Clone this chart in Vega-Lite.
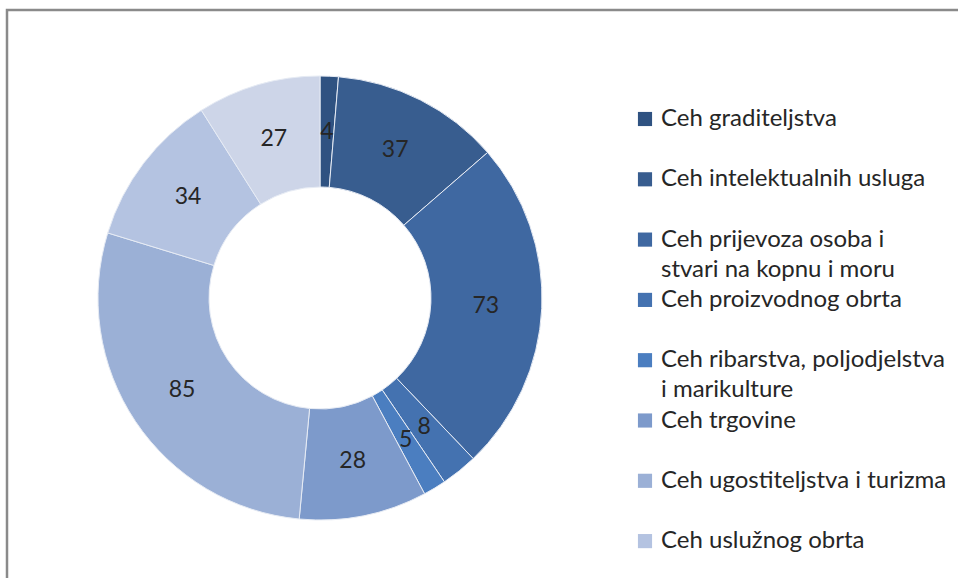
{
  "$schema": "https://vega.github.io/schema/vega-lite/v6.json",
  "width": 952,
  "height": 568,
  "autosize": "none",
  "padding": {"left": 6, "top": 10, "right": 0, "bottom": 0},
  "background": "white",
  "config": {
    "view": {"stroke": null},
    "style": {"guide-label": {"lineHeight": 30}}
  },
  "data": {
    "values": [
      {"ceh": "Ceh graditeljstva", "broj": 4, "red": 1},
      {"ceh": "Ceh intelektualnih usluga", "broj": 37, "red": 2},
      {"ceh": "Ceh prijevoza osoba i stvari na kopnu i moru", "broj": 73, "red": 3},
      {"ceh": "Ceh proizvodnog obrta", "broj": 8, "red": 4},
      {"ceh": "Ceh ribarstva, poljodjelstva i marikulture", "broj": 5, "red": 5},
      {"ceh": "Ceh trgovine", "broj": 28, "red": 6},
      {"ceh": "Ceh ugostiteljstva i turizma", "broj": 85, "red": 7},
      {"ceh": "Ceh uslužnog obrta", "broj": 34, "red": 8},
      {"ceh": "Ceh zdravstvenih usluga i socijalne skrbi", "broj": 27, "red": 9}
    ]
  },
  "layer": [
    {
      "data": {"values": [{"okvir": 1}]},
      "mark": {"type": "rect", "fill": null, "stroke": "#8a8a8a", "strokeWidth": 2.5, "x": 1, "y": 0, "x2": {"expr": "width + 20"}, "y2": {"expr": "height + 20"}},
      "encoding": {}
    },
    {
      "mark": {"type": "arc", "innerRadius": 111, "outerRadius": 222, "x": 314, "y": 288, "stroke": "#e6ebf4", "strokeWidth": 1},
      "encoding": {
        "theta": {"field": "broj", "type": "quantitative", "stack": true},
        "order": {"field": "red", "type": "quantitative"},
        "color": {
          "field": "ceh",
          "type": "nominal",
          "sort": null,
          "scale": {
            "domain": [
              "Ceh graditeljstva",
              "Ceh intelektualnih usluga",
              "Ceh prijevoza osoba i stvari na kopnu i moru",
              "Ceh proizvodnog obrta",
              "Ceh ribarstva, poljodjelstva i marikulture",
              "Ceh trgovine",
              "Ceh ugostiteljstva i turizma",
              "Ceh uslužnog obrta",
              "Ceh zdravstvenih usluga i socijalne skrbi"
            ],
            "range": ["#2f5281", "#385d8f", "#3f68a1", "#4472b0", "#4b7ec0", "#7d9acb", "#9bb0d6", "#b4c3e1", "#cdd5e8"]
          },
          "legend": {
            "title": null,
            "orient": "none",
            "legendX": 627,
            "legendY": 97,
            "values": [
              "Ceh graditeljstva",
              "Ceh intelektualnih usluga",
              "Ceh prijevoza osoba i stvari na kopnu i moru",
              "Ceh proizvodnog obrta",
              "Ceh ribarstva, poljodjelstva i marikulture",
              "Ceh trgovine",
              "Ceh ugostiteljstva i turizma",
              "Ceh uslužnog obrta"
            ],
            "symbolType": "square",
            "symbolSize": 200,
            "symbolStrokeWidth": 0,
            "labelFont": "Lato",
            "labelFontSize": 24,
            "labelColor": "#262626",
            "labelOffset": 4,
            "labelLimit": 400,
            "labelBaseline": "middle",
            "rowPadding": 6.3,
            "labelExpr": "datum.label == 'Ceh prijevoza osoba i stvari na kopnu i moru' ? ['Ceh prijevoza osoba i', 'stvari na kopnu i moru'] : datum.label == 'Ceh ribarstva, poljodjelstva i marikulture' ? ['Ceh ribarstva, poljodjelstva', 'i marikulture'] : [datum.label, '']"
          }
        }
      }
    },
    {
      "mark": {"type": "text", "radius": 166, "x": 314, "y": 288, "font": "Lato", "fontSize": 23, "color": "#262626"},
      "encoding": {
        "theta": {"field": "broj", "type": "quantitative", "stack": true},
        "order": {"field": "red", "type": "quantitative"},
        "text": {"field": "broj", "type": "quantitative"}
      }
    }
  ]
}
